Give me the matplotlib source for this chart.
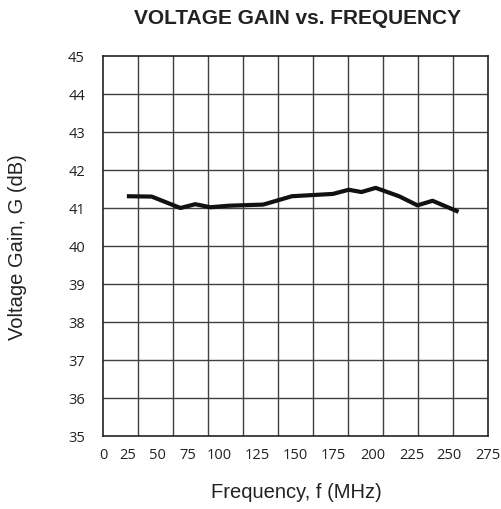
import numpy as np
import matplotlib
matplotlib.use("Agg")
import matplotlib.pyplot as plt

# ---- data ----
freq_mhz = [24, 45, 69, 81, 93, 106, 129, 148, 175, 185, 193, 202, 217, 229, 239, 256]
gain_db = [41.31, 41.30, 41.00, 41.10, 41.02, 41.06, 41.09, 41.31, 41.37, 41.48, 41.42, 41.53, 41.31, 41.07, 41.19, 40.90]
x_tick_values = [0, 25, 50, 75, 100, 125, 150, 175, 200, 225, 250, 275]
y_tick_values = [35, 36, 37, 38, 39, 40, 41, 42, 43, 44, 45]

# ---- layout: label positions as printed in the source (irregularly spaced), in pixels ----
label_px = np.array([102, 127, 157, 187, 219, 257, 295, 333, 373, 412, 450, 489], dtype=float)
tick_vals = np.array(x_tick_values, dtype=float)
box_left_px, box_right_px = 103.0, 488.0


def _fwd(v):
    v = np.asarray(v, dtype=float)
    lo = label_px[0] + (v - tick_vals[0]) * (label_px[1] - label_px[0]) / (tick_vals[1] - tick_vals[0])
    hi = label_px[-1] + (v - tick_vals[-1]) * (label_px[-1] - label_px[-2]) / (tick_vals[-1] - tick_vals[-2])
    mid = np.interp(v, tick_vals, label_px)
    return np.where(v < tick_vals[0], lo, np.where(v > tick_vals[-1], hi, mid))


def _inv(p):
    p = np.asarray(p, dtype=float)
    lo = tick_vals[0] + (p - label_px[0]) * (tick_vals[1] - tick_vals[0]) / (label_px[1] - label_px[0])
    hi = tick_vals[-1] + (p - label_px[-1]) * (tick_vals[-1] - tick_vals[-2]) / (label_px[-1] - label_px[-2])
    mid = np.interp(p, label_px, tick_vals)
    return np.where(p < label_px[0], lo, np.where(p > label_px[-1], hi, mid))


W, H = 502, 510
fig = plt.figure(figsize=(W / 100, H / 100), dpi=100)
ax = fig.add_axes([box_left_px / W, (H - 437) / H, (box_right_px - box_left_px) / W, 380 / H])

ax.set_xscale("function", functions=(_fwd, _inv))
ax.set_xlim(float(_inv(box_left_px)), float(_inv(box_right_px)))
ax.set_ylim(35, 45)

# grid: 11 equal columns, 10 equal rows
for i in range(1, 11):
    ax.plot([i / 11, i / 11], [0, 1], transform=ax.transAxes, color="#404040", lw=1.0, zorder=1)
for y in y_tick_values[1:-1]:
    ax.axhline(y, color="#404040", lw=1.0, zorder=1)

ax.plot(freq_mhz, gain_db, color="#111111", lw=3.0, solid_joinstyle="round", solid_capstyle="butt", zorder=3)

ax.set_xticks(x_tick_values)
ax.set_xticklabels([str(v) for v in x_tick_values])
ax.set_yticks(y_tick_values)
ax.set_yticklabels([str(v) for v in y_tick_values])
ax.tick_params(axis="both", length=0, labelsize=10.5, colors="#222222")
ax.tick_params(axis="x", pad=8)
ax.tick_params(axis="y", pad=13)
for lab in ax.get_xticklabels() + ax.get_yticklabels():
    lab.set_family(["Open Sans", "DejaVu Sans"])

for s in ax.spines.values():
    s.set_color("#222222")
    s.set_linewidth(1.2)

fig.text(298 / W, 1 - 18 / H, "VOLTAGE GAIN vs. FREQUENCY", ha="center", va="center",
         fontsize=15, fontweight="bold", family=["Liberation Sans", "DejaVu Sans"], color="#222222")
fig.text(296 / W, 1 - 493 / H, "Frequency, f (MHz)", ha="center", va="center",
         fontsize=14.5, family=["Liberation Sans", "DejaVu Sans"], color="#222222")
fig.text(18 / W, 1 - 247 / H, "Voltage Gain, G (dB)", ha="center", va="center", rotation=90,
         fontsize=14.5, family=["Liberation Sans", "DejaVu Sans"], color="#222222")

fig.savefig("out.png", dpi=100)
